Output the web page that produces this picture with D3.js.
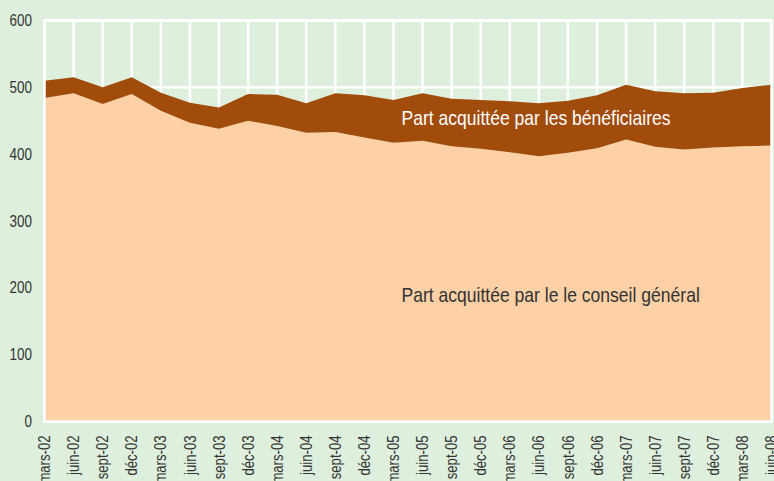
<!DOCTYPE html>
<html>
<head>
<meta charset="utf-8">
<script src="https://cdn.jsdelivr.net/npm/d3@7"></script>
<style>
  html, body { margin: 0; padding: 0; background: #deefdd; }
  svg { display: block; }
  text { font-family: "Liberation Sans", Arial, sans-serif; }
</style>
</head>
<body>
<svg id="chart" width="774" height="481"></svg>
<script>
const categories = ["mars-02","juin-02","sept-02","déc-02","mars-03","juin-03","sept-03","déc-03",
  "mars-04","juin-04","sept-04","déc-04","mars-05","juin-05","sept-05","déc-05",
  "mars-06","juin-06","sept-06","déc-06","mars-07","juin-07","sept-07","déc-07",
  "mars-08","juin-08"];
// Part acquittée par le conseil général
const conseilGeneral = [484,491,475,490,465,447,438,450,442,432,433,425,417,420,412,408,403,397,402,409,422,411,407,410,412,413];
// Part acquittée par les bénéficiaires
const beneficiaires = [26,24,25,25,27,30,32,40,47,44,58,63,64,71,71,73,76,79,78,79,82,83,84,82,87,91];
const yTicks = [0,100,200,300,400,500,600];
const seriesLabels = ["Part acquittée par le le conseil général", "Part acquittée par les bénéficiaires"];

const W = 774, H = 481;
const m = {left: 44.5, right: 2.5, top: 20.5, bottom: 59.5};
const svg = d3.select("#chart");
function narrow(sel, f) {
  sel.each(function() {
    const w = this.getComputedTextLength();
    d3.select(this).attr("textLength", w * f).attr("lengthAdjust", "spacingAndGlyphs");
  });
}

const x = d3.scalePoint().domain(categories).range([m.left, W - m.right]);
const y = d3.scaleLinear().domain([0, 600]).range([H - m.bottom, m.top]);

const data = categories.map((c, i) => ({cat: c, cg: conseilGeneral[i], ben: beneficiaires[i]}));
const stack = d3.stack().keys(["cg", "ben"])(data);
const colors = {cg: "#fdd0a6", ben: "#a14c0b"};

// gridlines
const grid = svg.append("g").attr("stroke", "#ffffff").attr("stroke-width", 2.5);
grid.selectAll("line.v").data(categories).join("line")
  .attr("x1", d => x(d)).attr("x2", d => x(d))
  .attr("y1", y(600)).attr("y2", y(0));
grid.selectAll("line.h").data(yTicks).join("line")
  .attr("x1", x.range()[0]).attr("x2", x.range()[1])
  .attr("y1", d => y(d)).attr("y2", d => y(d));

// areas
const area = d3.area()
  .x((d, i) => x(categories[i]))
  .y0(d => y(d[0]))
  .y1(d => y(d[1]));
svg.append("g").selectAll("path").data(stack).join("path")
  .attr("d", area)
  .attr("fill", d => colors[d.key]);

// frame
svg.append("rect")
  .attr("x", x.range()[0]).attr("y", y(600))
  .attr("width", x.range()[1] - x.range()[0]).attr("height", y(0) - y(600))
  .attr("fill", "none").attr("stroke", "#ffffff").attr("stroke-width", 2.5);

// y axis labels
svg.append("g").selectAll("text").data(yTicks).join("text")
  .attr("x", 32).attr("y", d => y(d)).attr("dy", "0.35em")
  .attr("text-anchor", "end").attr("font-size", 16).attr("fill", "#333")
  .text(d => d).call(narrow, 0.84);

// x axis labels
svg.append("g").selectAll("text").data(categories).join("text")
  .attr("transform", d => `translate(${x(d)},${y(0) + 14}) rotate(-90)`)
  .attr("dy", "0.35em")
  .attr("text-anchor", "end").attr("font-size", 16).attr("fill", "#333")
  .text(d => d).call(narrow, 0.82);

// annotations
svg.append("text").attr("x", 401.5).attr("y", 125).attr("font-size", 21)
  .attr("fill", "#ffffff").text(seriesLabels[1]).call(narrow, 0.835);
svg.append("text").attr("x", 401.5).attr("y", 302).attr("font-size", 21)
  .attr("fill", "#333").text(seriesLabels[0]).call(narrow, 0.835);
</script>
</body>
</html>
